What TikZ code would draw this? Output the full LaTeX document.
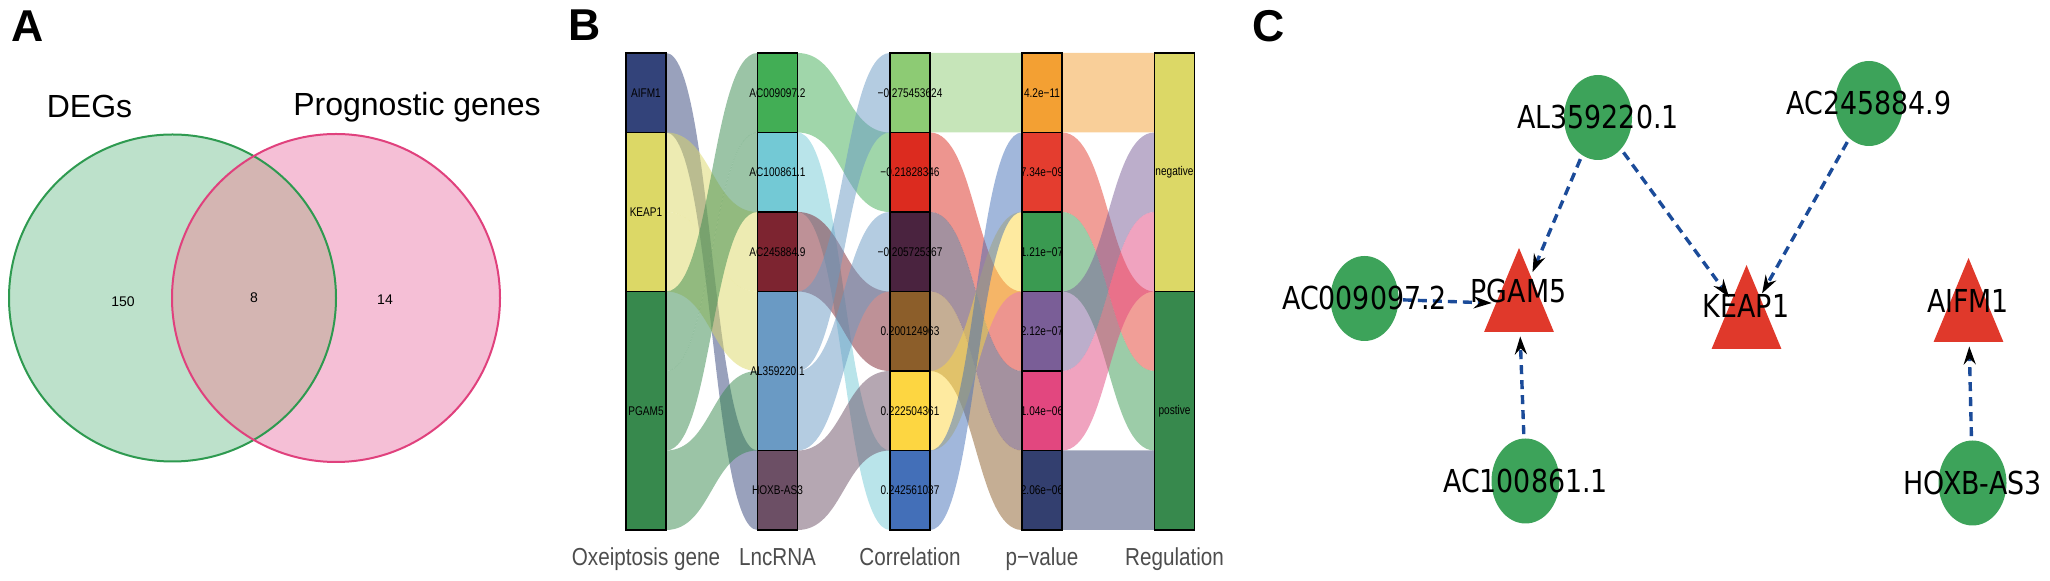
\documentclass[tikz,border=0pt]{standalone}
\usepackage{fontspec}
\setmainfont{Liberation Sans}
\newfontfamily\narrowfont[FakeStretch=0.8]{Liberation Sans}
\newfontfamily\axisfont[FakeStretch=0.84]{Liberation Sans}
\newfontfamily\netfont[FakeStretch=0.85]{DejaVu Sans}
\usetikzlibrary{shapes.geometric,arrows.meta}
\definecolor{venngreen}{HTML}{BDE1CB}
\definecolor{vennpink}{HTML}{F5BFD6}
\definecolor{vennmix}{HTML}{D4B5B2}
\definecolor{venngreenline}{HTML}{2E9A50}
\definecolor{vennpinkline}{HTML}{E0417D}
\definecolor{cAifm}{HTML}{33437A}
\definecolor{cKeap}{HTML}{DCD866}
\definecolor{cPgam}{HTML}{37894D}
\definecolor{cAcA}{HTML}{42AE55}
\definecolor{cAcB}{HTML}{73C9D5}
\definecolor{cAcC}{HTML}{7D2430}
\definecolor{cAl}{HTML}{6A9AC4}
\definecolor{cHox}{HTML}{6C4F65}
\definecolor{cRa}{HTML}{8DCB74}
\definecolor{cRb}{HTML}{DC2B1F}
\definecolor{cRc}{HTML}{4A233F}
\definecolor{cRd}{HTML}{8C5E2A}
\definecolor{cRe}{HTML}{FDD641}
\definecolor{cRf}{HTML}{436FB8}
\definecolor{cPa}{HTML}{F3A033}
\definecolor{cPb}{HTML}{E43D2F}
\definecolor{cPc}{HTML}{3A9A51}
\definecolor{cPd}{HTML}{7A5E97}
\definecolor{cPe}{HTML}{E2477F}
\definecolor{cPf}{HTML}{333F6F}
\definecolor{axisgray}{HTML}{4D4D4D}
\definecolor{lncgreen}{HTML}{3DA35A}
\definecolor{genered}{HTML}{E0392B}
\definecolor{edgeblue}{HTML}{1B4B99}
\newcommand{\alflow}[7]{\fill[#1, opacity=.5] (#2,#4) .. controls ({(#2+#3)/2},#4) and ({(#2+#3)/2},#6) .. (#3,#6) -- (#3,#7) .. controls ({(#2+#3)/2},#7) and ({(#2+#3)/2},#5) .. (#2,#5) -- cycle;}
\begin{document}
\begin{tikzpicture}[x=0.5pt, y=-0.5pt,
  panel/.style={font=\fontsize{22.3}{26}\selectfont\bfseries},
  setname/.style={font=\fontsize{16}{19}\selectfont, anchor=base},
  vcount/.style={font=\fontsize{7}{8}\selectfont},
  stratum/.style={draw=black, line width=0.9pt, minimum width=20pt, inner sep=0pt},
  slabel/.style={font=\narrowfont\fontsize{6.3}{7}\selectfont, inner sep=0pt},
  axislabel/.style={font=\axisfont\fontsize{12.3}{14}\selectfont, text=axisgray, anchor=base},
  lnc/.style={ellipse, fill=lncgreen, minimum width=34pt, minimum height=42.5pt, inner sep=0pt},
  gene/.style={regular polygon, regular polygon sides=3, minimum size=56pt, inner sep=0pt, fill=genered, xscale=0.72, transform shape},
  netlabel/.style={font=\netfont\fontsize{15.8}{18}\selectfont, text height=11.5pt, text depth=0pt, inner sep=0pt},
  coexp/.style={draw=edgeblue, line width=1.7pt, dash pattern=on 4.5pt off 3pt, shorten <=2pt, shorten >=2pt, -{Stealth[length=9pt, width=6pt, inset=3pt, color=black]}}]
\useasboundingbox (0,0) rectangle (2050,581);
\node[panel] (pa) at (27.5,26) {A};
\node[panel] (pb) at (585,25) {B};
\node[panel] (pc) at (1269,26) {C};
\fill[venngreen] (172.5,298) circle[radius=81.75pt];
\fill[vennpink] (336,298) circle[radius=82pt];
\begin{scope}
\clip (172.5,298) circle[radius=81.75pt];
\fill[vennmix] (336,298) circle[radius=82pt];
\end{scope}
\draw[venngreenline, line width=1pt] (172.5,298) circle[radius=81.75pt];
\draw[vennpinkline, line width=1pt] (336,298) circle[radius=82pt];
\node[setname] (degs) at (89.5,118) {DEGs};
\node[setname] (prog) at (417,116) {Prognostic genes};
\node[vcount] (n1) at (123,302) {150};
\node[vcount] (n2) at (254,298) {8};
\node[vcount] (n3) at (385,300) {14};
\alflow{cAifm}{666}{757.5}{53}{132.5}{450.5}{530}
\alflow{cKeap}{666}{757.5}{132.5}{212}{212}{291.5}
\alflow{cKeap}{666}{757.5}{212}{291.5}{291.5}{371}
\alflow{cPgam}{666}{757.5}{291.5}{371}{53}{132.5}
\alflow{cPgam}{666}{757.5}{371}{450.5}{132.5}{212}
\alflow{cPgam}{666}{757.5}{450.5}{530}{371}{450.5}
\alflow{cAcA}{797.5}{890}{53}{132.5}{132.5}{212}
\alflow{cAcB}{797.5}{890}{132.5}{212}{450.5}{530}
\alflow{cAcC}{797.5}{890}{212}{291.5}{291.5}{371}
\alflow{cAl}{797.5}{890}{291.5}{371}{53}{132.5}
\alflow{cAl}{797.5}{890}{371}{450.5}{212}{291.5}
\alflow{cHox}{797.5}{890}{450.5}{530}{371}{450.5}
\alflow{cRa}{930}{1022}{53}{132.5}{53}{132.5}
\alflow{cRb}{930}{1022}{132.5}{212}{291.5}{371}
\alflow{cRc}{930}{1022}{212}{291.5}{371}{450.5}
\alflow{cRd}{930}{1022}{291.5}{371}{450.5}{530}
\alflow{cRe}{930}{1022}{371}{450.5}{212}{291.5}
\alflow{cRf}{930}{1022}{450.5}{530}{132.5}{212}
\alflow{cPa}{1062}{1154.5}{53}{132.5}{53}{132.5}
\alflow{cPb}{1062}{1154.5}{132.5}{212}{291.5}{371}
\alflow{cPc}{1062}{1154.5}{212}{291.5}{371}{450.5}
\alflow{cPd}{1062}{1154.5}{291.5}{371}{132.5}{212}
\alflow{cPe}{1062}{1154.5}{371}{450.5}{212}{291.5}
\alflow{cPf}{1062}{1154.5}{450.5}{530}{450.5}{530}
\node[stratum, fill=cAifm, minimum height=39.75pt, label={[slabel]center:AIFM1}] (g1) at (646,92.75) {};
\node[stratum, fill=cKeap, minimum height=79.5pt, label={[slabel]center:KEAP1}] (g2) at (646,212) {};
\node[stratum, fill=cPgam, minimum height=119.25pt, label={[slabel]center:PGAM5}] (g3) at (646,410.75) {};
\node[stratum, fill=cAcA, minimum height=39.75pt, label={[slabel]center:AC009097.2}] (l1) at (777.5,92.75) {};
\node[stratum, fill=cAcB, minimum height=39.75pt, label={[slabel]center:AC100861.1}] (l2) at (777.5,172.25) {};
\node[stratum, fill=cAcC, minimum height=39.75pt, label={[slabel]center:AC245884.9}] (l3) at (777.5,251.75) {};
\node[stratum, fill=cAl, minimum height=79.5pt, label={[slabel]center:AL359220.1}] (l4) at (777.5,371) {};
\node[stratum, fill=cHox, minimum height=39.75pt, label={[slabel]center:HOXB-AS3}] (l5) at (777.5,490.25) {};
\node[stratum, fill=cRa, minimum height=39.75pt, label={[slabel]center:−0.275453624}] (r1) at (910,92.75) {};
\node[stratum, fill=cRb, minimum height=39.75pt, label={[slabel]center:−0.21828346}] (r2) at (910,172.25) {};
\node[stratum, fill=cRc, minimum height=39.75pt, label={[slabel]center:−0.205725367}] (r3) at (910,251.75) {};
\node[stratum, fill=cRd, minimum height=39.75pt, label={[slabel]center:0.200124963}] (r4) at (910,331.25) {};
\node[stratum, fill=cRe, minimum height=39.75pt, label={[slabel]center:0.222504361}] (r5) at (910,410.75) {};
\node[stratum, fill=cRf, minimum height=39.75pt, label={[slabel]center:0.242561037}] (r6) at (910,490.25) {};
\node[stratum, fill=cPa, minimum height=39.75pt, label={[slabel]center:4.2e−11}] (p1) at (1042,92.75) {};
\node[stratum, fill=cPb, minimum height=39.75pt, label={[slabel]center:7.34e−09}] (p2) at (1042,172.25) {};
\node[stratum, fill=cPc, minimum height=39.75pt, label={[slabel]center:1.21e−07}] (p3) at (1042,251.75) {};
\node[stratum, fill=cPd, minimum height=39.75pt, label={[slabel]center:2.12e−07}] (p4) at (1042,331.25) {};
\node[stratum, fill=cPe, minimum height=39.75pt, label={[slabel]center:1.04e−06}] (p5) at (1042,410.75) {};
\node[stratum, fill=cPf, minimum height=39.75pt, label={[slabel]center:2.06e−06}] (p6) at (1042,490.25) {};
\node[stratum, fill=cKeap, minimum height=119.25pt, label={[slabel]center:negative}] (neg) at (1174.5,172.25) {};
\node[stratum, fill=cPgam, minimum height=119.25pt, label={[slabel]center:postive}] (pos) at (1174.5,410.75) {};
\node[axislabel] (ax1) at (646,566) {Oxeiptosis gene};
\node[axislabel] (ax2) at (777.5,566) {LncRNA};
\node[axislabel] (ax3) at (910,566) {Correlation};
\node[axislabel] (ax4) at (1042,566) {p−value};
\node[axislabel] (ax5) at (1174.5,566) {Regulation};
\node[lnc] (al) at (1598,117.5) {};
\node[lnc] (ac24) at (1869,103.5) {};
\node[lnc] (ac00) at (1364.5,298.5) {};
\node[lnc] (ac10) at (1525.5,481) {};
\node[lnc] (hoxb) at (1972.5,483) {};
\begin{scope}[shift={(1519,304)}]
\node[gene] (pgam) at (0,0) {};
\end{scope}
\begin{scope}[shift={(1746.5,321)}]
\node[gene] (keap) at (0,0) {};
\end{scope}
\begin{scope}[shift={(1968.5,314)}]
\node[gene] (aifm) at (0,0) {};
\end{scope}
\draw[coexp] (al) -- (pgam);
\draw[coexp] (al) -- (keap);
\draw[coexp] (ac24) -- (keap);
\draw[coexp] (ac00) -- (pgam);
\draw[coexp] (ac10) -- (pgam);
\draw[coexp] (hoxb) -- (aifm);
\node[netlabel] (altxt) at (al) {AL359220.1};
\node[netlabel] (ac24txt) at (ac24) {AC245884.9};
\node[netlabel] (ac00txt) at (ac00) {AC009097.2};
\node[netlabel] (ac10txt) at (ac10) {AC100861.1};
\node[netlabel] (hoxbtxt) at (hoxb) {HOXB-AS3};
\node[netlabel] (pgamtxt) at (1518.5,291.5) {PGAM5};
\node[netlabel] (keaptxt) at (1746,306.5) {KEAP1};
\node[netlabel] (aifmtxt) at (1968,301.5) {AIFM1};
\end{tikzpicture}
\end{document}
